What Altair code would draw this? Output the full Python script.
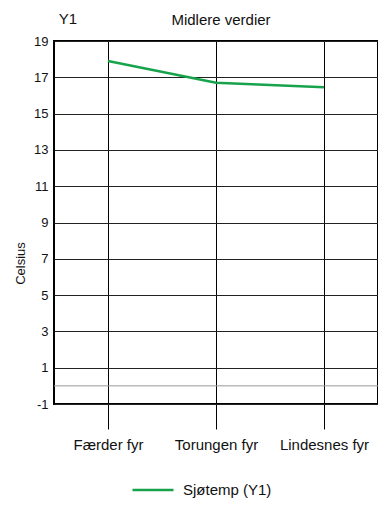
import altair as alt
import pandas as pd

stations = ["Færder fyr", "Torungen fyr", "Lindesnes fyr"]
sjotemp = [17.9, 16.7, 16.45]
series_name = "Sjøtemp (Y1)"
y_ticks = [-1, 1, 3, 5, 7, 9, 11, 13, 15, 17, 19]

FONT = "Liberation Sans"
GREEN = "#16a34c"

df = pd.DataFrame({"station": stations, "value": sjotemp, "series": [series_name] * 3})

x_enc = alt.X(
    "station:N",
    sort=stations,
    scale=alt.Scale(type="point", padding=0.5),
    axis=alt.Axis(
        title=None, grid=True, gridColor="#000", gridWidth=1,
        domain=False, ticks=True, tickSize=25, tickColor="#000", tickWidth=1,
        labelFont=FONT, labelFontSize=15, labelColor="#111", labelPadding=8,
        labelAngle=0, labelOverlap=False,
    ),
)
y_scale = alt.Scale(domain=[-1, 19], nice=False, zero=False)
y_axis = alt.Axis(
    values=y_ticks, title="Celsius", grid=True, gridColor="#222", gridWidth=1,
    domain=False, ticks=False, labelPadding=6, labelOverlap=False,
    labelExpr="'' + datum.value",
    labelFont=FONT, labelFontSize=13, labelColor="#111",
    titleFont=FONT, titleFontSize=13, titleFontWeight="normal", titleColor="#111",
    titleX=-34, titleY=222, titleBaseline="middle", titleAlign="center",
)

line = alt.Chart(df).mark_line(strokeWidth=2.5).encode(
    x=x_enc,
    y=alt.Y("value:Q", scale=y_scale, axis=y_axis),
    color=alt.Color(
        "series:N",
        scale=alt.Scale(domain=[series_name], range=[GREEN]),
        legend=alt.Legend(
            orient="none", legendX=77, legendY=427, title=None,
            symbolType="stroke", symbolSize=1681, symbolStrokeWidth=2.5,
            labelFont=FONT, labelFontSize=15, labelColor="#111", labelOffset=8,
            padding=0,
        ),
    ),
)

zero_df = pd.DataFrame({"v": [0]})
zero = alt.Chart(zero_df).mark_rule(color="#999", strokeWidth=1).encode(
    y=alt.Y("v:Q", scale=y_scale, axis=y_axis)
)

y1_df = pd.DataFrame({"t": ["Y1"]})
y1 = alt.Chart(y1_df).mark_text(
    font=FONT, fontSize=15, color="#111", align="center", baseline="middle"
).encode(text="t:N", x=alt.value(14), y=alt.value(-22))

chart = alt.layer(line, zero, y1).properties(
    width=324, height=363,
    background="white",
    title=alt.TitleParams(
        "Midlere verdier", font=FONT, fontSize=15, fontWeight="normal",
        color="#111", anchor="middle", baseline="middle", offset=-23, dx=5,
    ),
    autosize=alt.AutoSizeParams(type="none"),
    padding={"left": 46, "top": 33, "right": 0, "bottom": 94},
).configure_view(stroke="#000", strokeWidth=2)

chart.save("out.html", embed_options={"renderer": "svg", "actions": False})
